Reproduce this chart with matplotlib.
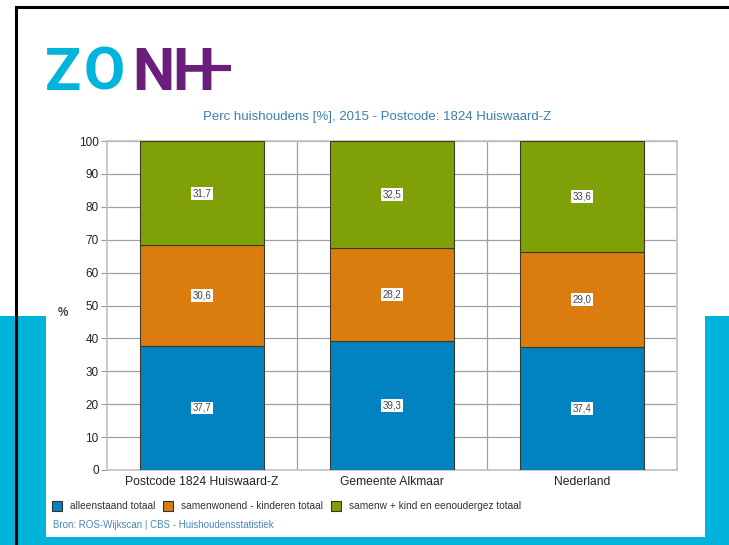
import matplotlib.pyplot as plt
from matplotlib.patches import Rectangle, Patch
from matplotlib.lines import Line2D

plt.rcParams['font.family'] = ['Liberation Sans', 'DejaVu Sans']

# data
gebieden = ['Postcode 1824 Huiswaard-Z', 'Gemeente Alkmaar', 'Nederland']
alleenstaand = [37.7, 39.3, 37.4]
samenwonend = [30.6, 28.2, 29.0]
samenw_kind = [31.7, 32.5, 33.6]
reeksen = ['alleenstaand totaal', 'samenwonend - kinderen totaal', 'samenw + kind en eenoudergez totaal']
kleuren = ['#0083c0', '#db7c0e', '#7fa006']

W, H = 729, 545
fig = plt.figure(figsize=(W / 100, H / 100), dpi=100)
fig.patch.set_facecolor('white')

# achtergrond: cyaan band, wit paneel, zwarte rand
fig.patches.append(Rectangle((0, 0), 1, 1 - 316 / H, transform=fig.transFigure,
                             facecolor='#00b4dc', edgecolor='none', zorder=-3))
fig.patches.append(Rectangle((46 / W, 1 - 537 / H), (705 - 46) / W, (537 - 7) / H,
                             transform=fig.transFigure, facecolor='white', edgecolor='none', zorder=-2))
fig.lines.append(Line2D([16 / W, 1], [1 - 7 / H, 1 - 7 / H], transform=fig.transFigure,
                        color='black', lw=2.2, zorder=-1))
fig.lines.append(Line2D([16 / W, 16 / W], [0, 1 - 7 / H], transform=fig.transFigure,
                        color='black', lw=2.2, zorder=-1))

# logo
for letter, xpos, kleur in [('Z', 45, '#00b4dc'), ('O', 84, '#00b4dc'),
                            ('N', 132, '#6b1f7c'), ('H', 172, '#6b1f7c')]:
    fig.text(xpos / W, 1 - 90 / H, letter, color=kleur, fontsize=43, fontweight='bold',
             family='Roboto', va='baseline', ha='left')
fig.lines.append(Line2D([204 / W, 231 / W], [1 - 68 / H, 1 - 68 / H], transform=fig.transFigure,
                        color='#6b1f7c', lw=4.5, solid_capstyle='butt'))

ax = fig.add_axes([107 / W, 1 - 470 / H, (677 - 107) / W, (470 - 141) / H])
x = range(len(gebieden))
bottom = [0, 0, 0]
for vals, kleur in zip([alleenstaand, samenwonend, samenw_kind], kleuren):
    ax.bar(x, vals, width=0.65, bottom=bottom, color=kleur, edgecolor='#3a3a2a',
           linewidth=0.8, zorder=3)
    for i, v in enumerate(vals):
        ax.text(i, bottom[i] + v / 2, f'{v:.1f}'.replace('.', ','), ha='center', va='center',
                fontsize=7, color='#444444', zorder=4,
                bbox=dict(boxstyle='square,pad=0.15', fc='white', ec='none'))
    bottom = [b + v for b, v in zip(bottom, vals)]

ax.set_xlim(-0.5, 2.5)
ax.set_ylim(0, 100)
ax.set_yticks(range(0, 101, 10))
ax.set_xticks(list(x))
ax.set_xticklabels(gebieden, fontsize=8.7, color='#222222')
ax.tick_params(axis='y', labelsize=8.5, labelcolor='#222222', length=4, color='#999999', pad=2)
ax.tick_params(axis='x', length=0, pad=4)
ax.set_xticks([0.5, 1.5], minor=True)
ax.tick_params(axis='x', which='minor', length=0)
ax.grid(axis='y', color='#a0a0a0', lw=0.9, zorder=1)
ax.grid(axis='x', which='minor', color='#a0a0a0', lw=0.9, zorder=1)
for s in ax.spines.values():
    s.set_color('#c0c0c0')
    s.set_linewidth(1.2)
ax.set_ylabel('%', rotation=0, fontsize=8.5, fontweight='bold', color='#444444', va='center')
ax.yaxis.set_label_coords(-0.078, 0.477)

fig.text(377 / W, 1 - 117 / H, 'Perc huishoudens [%], 2015 - Postcode: 1824 Huiswaard-Z',
         ha='center', va='center', fontsize=9.5, color='#3d7fb0')

handles = [Patch(facecolor=k, edgecolor='#333333', lw=0.8) for k in kleuren]
fig.legend(handles, reeksen, loc='center left', bbox_to_anchor=(49 / W, 1 - 506 / H),
           ncol=3, frameon=False, fontsize=7.3, handlelength=1.0, handleheight=1.15,
           handletextpad=0.75, columnspacing=0.8, borderaxespad=0, borderpad=0.3,
           labelcolor='#333333')

fig.text(53 / W, 1 - 525 / H, 'Bron: ROS-Wijkscan | CBS - Huishoudensstatistiek',
         ha='left', va='center', fontsize=7, color='#4a86b8')

fig.savefig('out.png', dpi=100)
